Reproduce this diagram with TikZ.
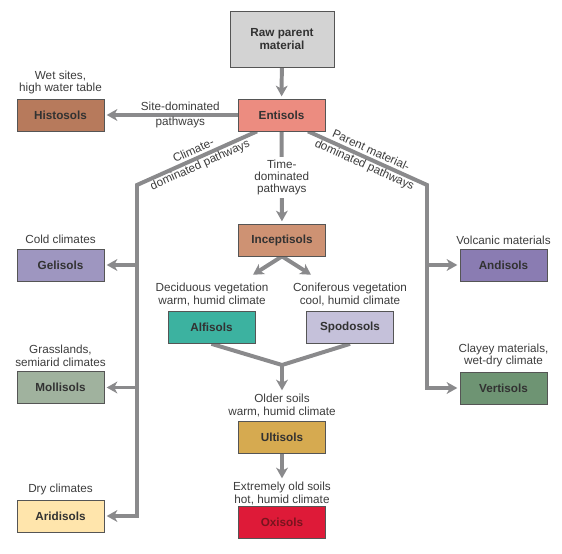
\documentclass[tikz,border=0pt]{standalone}
\usepackage{fontspec}
\setmainfont{Liberation Sans}
\usepackage{tikz}
\usetikzlibrary{arrows.meta,positioning,backgrounds}
\usepackage{xcolor}
\definecolor{pathgray}{RGB}{138,138,140}
\definecolor{edgegray}{RGB}{85,85,85}
\definecolor{labelgray}{RGB}{50,50,50}
\definecolor{notegray}{RGB}{60,60,60}
\definecolor{rawgray}{RGB}{211,211,211}
\definecolor{entipink}{RGB}{236,140,128}
\definecolor{histbrown}{RGB}{183,122,92}
\definecolor{incepbrown}{RGB}{206,146,115}
\definecolor{gelipurple}{RGB}{158,150,192}
\definecolor{mollgreen}{RGB}{160,178,158}
\definecolor{aridcream}{RGB}{255,229,172}
\definecolor{alfteal}{RGB}{60,178,160}
\definecolor{spodlilac}{RGB}{197,193,218}
\definecolor{andipurple}{RGB}{138,124,178}
\definecolor{vertgreen}{RGB}{110,148,115}
\definecolor{ultmustard}{RGB}{214,170,80}
\definecolor{oxired}{RGB}{222,26,56}
\definecolor{oxitext}{RGB}{120,20,30}
\tikzstyle{arrow} = [line width=3.4pt,-{Stealth[length=9pt,width=10pt,inset=2.5pt]},color=pathgray,shorten >=2pt,line join=miter]
\tikzstyle{pathline} = [line width=3.4pt,color=pathgray,line join=miter]
\tikzstyle{soilbox} = [rectangle, minimum width=26.1mm, minimum height=9.6mm, inner sep=0pt, align=center, draw=edgegray, line width=0.6pt, text=labelgray, font=\fontsize{10}{11}\selectfont\bfseries]
\tikzstyle{note} = [align=center, inner sep=1pt, text=notegray, font=\fontsize{10}{11}\selectfont]
\tikzstyle{pathnote} = [note, font=\fontsize{10}{13.5}\selectfont]

\begin{document}
\begin{tikzpicture}[x=0.3mm,y=-0.3mm]
\useasboundingbox (0,0) rectangle (562,554);
% soil orders
\node[soilbox, fill=rawgray, minimum width=31.2mm, minimum height=16.8mm] (raw) at (282,39) {Raw parent\\material};
\node[soilbox, fill=entipink] (ent) at (281.5,115) {Entisols};
\node[soilbox, fill=histbrown] (hist) at (60.5,115) {Histosols};
\node[soilbox, fill=incepbrown] (incep) at (282,240) {Inceptisols};
\node[soilbox, fill=gelipurple] (gel) at (60.5,265) {Gelisols};
\node[soilbox, fill=andipurple] (andi) at (503.5,265) {Andisols};
\node[soilbox, fill=alfteal] (alf) at (211.5,327.5) {Alfisols};
\node[soilbox, fill=spodlilac] (spod) at (350,327.5) {Spodosols};
\node[soilbox, fill=mollgreen] (moll) at (60.5,387.5) {Mollisols};
\node[soilbox, fill=vertgreen] (vert) at (503.5,388) {Vertisols};
\node[soilbox, fill=ultmustard] (ult) at (282,437.5) {Ultisols};
\node[soilbox, fill=aridcream] (arid) at (60.5,516) {Aridisols};
\node[soilbox, fill=oxired, text=oxitext] (oxi) at (282,522) {Oxisols};
% conditions
\node[note] (wet) at (60.5,82.5) {Wet sites,\\high water table};
\node[note] (cold) at (60.5,239) {Cold climates};
\node[note] (grass) at (60.5,356) {Grasslands,\\semiarid climates};
\node[note] (dry) at (60.5,489) {Dry climates};
\node[note] (volc) at (503.5,240) {Volcanic materials};
\node[note] (clay) at (503.5,355.5) {Clayey materials,\\wet-dry climate};
\node[note] (decidnote) at (212,294.5) {Deciduous vegetation\\warm, humid climate};
\node[note] (conifnote) at (350,294.5) {Coniferous vegetation\\cool, humid climate};
\node[note] (older) at (282,405.5) {Older soils\\warm, humid climate};
\node[note] (xold) at (282,493.5) {Extremely old soils\\hot, humid climate};
% corners
\coordinate (cl) at (137,185);
\coordinate (cr) at (427,185);
\coordinate (decid) at (251,276);
\coordinate (conif) at (313,276);
\coordinate (join) at (282,365);
\begin{scope}[on background layer]
\draw[arrow] (raw) -- (ent);
\draw[arrow] (ent) -- node[pathnote, pos=0.43] {Site-dominated\\pathways} (hist);
\draw[arrow] (ent) -- node[note, fill=white, inner sep=2pt, font=\fontsize{10}{10.5}\selectfont] {Time-\\dominated\\pathways} (incep);
\draw[arrow] ([xshift=-7.35mm]ent.south) -- node[pathnote, sloped] {Climate-\\dominated pathways} (cl) |- (arid);
\draw[arrow] (cl |- gel) -- (gel);
\draw[arrow] (cl |- moll) -- (moll);
\draw[arrow] ([xshift=7.95mm]ent.south) -- node[pathnote, sloped] {Parent material-\\dominated pathways} (cr) |- (vert);
\draw[arrow] (cr |- andi) -- (andi);
\draw[arrow] (incep.south) -- (decid);
\draw[arrow] (incep.south) -- (conif);
\draw[pathline] (alf.south) -- (join) -- (spod.south);
\draw[arrow] (join) -- (older);
\draw[arrow] (ult) -- (xold);
\end{scope}
\end{tikzpicture}
\end{document}
